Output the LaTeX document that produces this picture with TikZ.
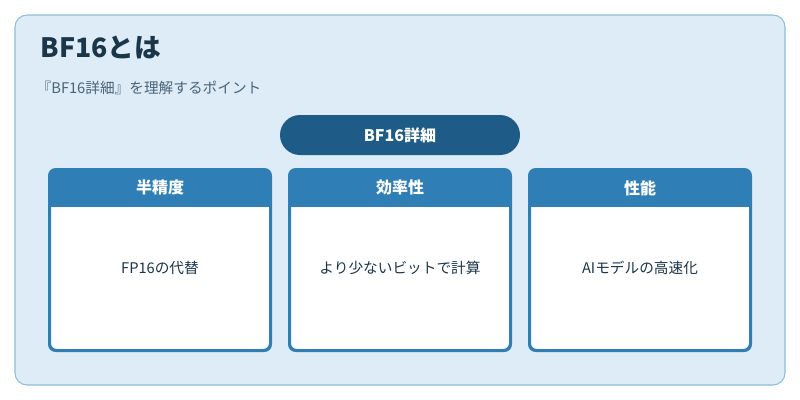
\documentclass[tikz,border=0pt]{standalone}
\usepackage{fontspec}
\setmainfont{Noto Sans CJK JP}
\usetikzlibrary{positioning}
\definecolor{bgblue}{HTML}{DDECF6}
\definecolor{bgline}{HTML}{8DBDDB}
\definecolor{pillblue}{HTML}{1E5B87}
\definecolor{headblue}{HTML}{2F7FB6}
\definecolor{inktext}{HTML}{1B3549}
\definecolor{subtext}{HTML}{4A6478}
\begin{document}
\begin{tikzpicture}[x=0.75pt,y=-0.75pt,
    card/.style={draw=headblue,line width=1.5pt,fill=white,rounded corners=5pt,
                 minimum width=165pt,minimum height=135pt,inner sep=0pt},
    head/.style={fill=headblue,text=white,font=\bfseries\fontsize{12}{14}\selectfont,
                 minimum width=165pt,minimum height=28pt,inner sep=0pt},
    body/.style={text=inktext,font=\fontsize{11}{13}\selectfont}
  ]
  \useasboundingbox (0,0) rectangle (800,400);
  \draw[bgline,fill=bgblue,rounded corners=9pt,line width=0.8pt] (15,15) rectangle (785,385);

  \node[anchor=west,text=inktext,font=\bfseries\fontsize{20}{24}\selectfont] (title) at (36,47) {BF16とは};
  \node[anchor=west,text=subtext,font=\fontsize{11}{13}\selectfont] (subtitle) at (32,88) {『BF16詳細』を理解するポイント};

  \node[fill=pillblue,text=white,rounded corners=15pt,minimum width=180pt,minimum height=30pt,
        font=\bfseries\fontsize{12}{14}\selectfont] (main) at (400,135) {BF16詳細};

  % cards
  \foreach \x/\name/\hd/\txt in {160/half/半精度/FP16の代替,
                                 400/eff/効率性/より少ないビットで計算,
                                 640/perf/性能/AIモデルの高速化}{
    \node[card] (\name) at (\x,260) {};
    \begin{scope}
      \clip[rounded corners=5pt] (\name.north west) rectangle (\name.south east);
      \node[head,anchor=north] (\name-head) at (\name.north) {\hd};
    \end{scope}
    \draw[headblue,line width=1.5pt,rounded corners=5pt] (\name.north west) rectangle (\name.south east);
    \node[body] (\name-text) at (\x,268) {\txt};
  }
\end{tikzpicture}
\end{document}
